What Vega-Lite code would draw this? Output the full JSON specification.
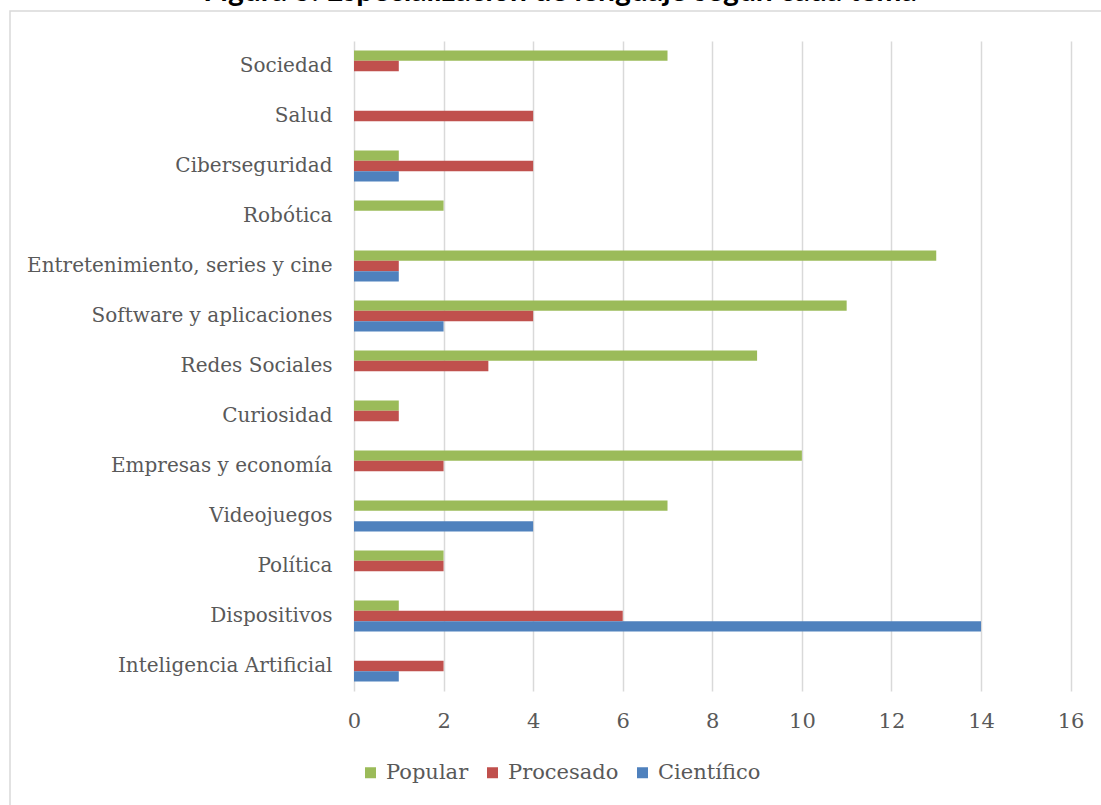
{
  "$schema": "https://vega.github.io/schema/vega-lite/v6.json",
  "autosize": {"type": "none"},
  "width": 1100,
  "height": 800,
  "padding": {"left": 10, "top": 11, "right": 0, "bottom": 0},
  "background": "#ffffff",
  "config": {
    "view": {"stroke": "#D9D9D9", "strokeWidth": 1.5},
    "font": "DejaVu Serif"
  },
  "title": {
    "text": "Figura 5. Especialización de lenguaje según cada tema",
    "font": "Lato",
    "fontSize": 30,
    "fontWeight": "bold",
    "color": "#000000",
    "anchor": "middle",
    "frame": "group",
    "baseline": "alphabetic",
    "offset": 0,
    "dy": 20
  },
  "data": {
    "values": [
      {"tema": "Sociedad", "tipo": "Popular", "valor": 7},
      {"tema": "Sociedad", "tipo": "Procesado", "valor": 1},
      {"tema": "Salud", "tipo": "Procesado", "valor": 4},
      {"tema": "Ciberseguridad", "tipo": "Popular", "valor": 1},
      {"tema": "Ciberseguridad", "tipo": "Procesado", "valor": 4},
      {"tema": "Ciberseguridad", "tipo": "Científico", "valor": 1},
      {"tema": "Robótica", "tipo": "Popular", "valor": 2},
      {"tema": "Entretenimiento, series y cine", "tipo": "Popular", "valor": 13},
      {"tema": "Entretenimiento, series y cine", "tipo": "Procesado", "valor": 1},
      {"tema": "Entretenimiento, series y cine", "tipo": "Científico", "valor": 1},
      {"tema": "Software y aplicaciones", "tipo": "Popular", "valor": 11},
      {"tema": "Software y aplicaciones", "tipo": "Procesado", "valor": 4},
      {"tema": "Software y aplicaciones", "tipo": "Científico", "valor": 2},
      {"tema": "Redes Sociales", "tipo": "Popular", "valor": 9},
      {"tema": "Redes Sociales", "tipo": "Procesado", "valor": 3},
      {"tema": "Curiosidad", "tipo": "Popular", "valor": 1},
      {"tema": "Curiosidad", "tipo": "Procesado", "valor": 1},
      {"tema": "Empresas y economía", "tipo": "Popular", "valor": 10},
      {"tema": "Empresas y economía", "tipo": "Procesado", "valor": 2},
      {"tema": "Videojuegos", "tipo": "Popular", "valor": 7},
      {"tema": "Videojuegos", "tipo": "Científico", "valor": 4},
      {"tema": "Política", "tipo": "Popular", "valor": 2},
      {"tema": "Política", "tipo": "Procesado", "valor": 2},
      {"tema": "Dispositivos", "tipo": "Popular", "valor": 1},
      {"tema": "Dispositivos", "tipo": "Procesado", "valor": 6},
      {"tema": "Dispositivos", "tipo": "Científico", "valor": 14},
      {"tema": "Inteligencia Artificial", "tipo": "Procesado", "valor": 2},
      {"tema": "Inteligencia Artificial", "tipo": "Científico", "valor": 1}
    ]
  },
  "mark": {"type": "bar"},
  "encoding": {
    "y": {
      "field": "tema",
      "type": "nominal",
      "sort": ["Sociedad", "Salud", "Ciberseguridad", "Robótica", "Entretenimiento, series y cine", "Software y aplicaciones", "Redes Sociales", "Curiosidad", "Empresas y economía", "Videojuegos", "Política", "Dispositivos", "Inteligencia Artificial"],
      "scale": {"range": [30, 680], "paddingInner": 0.38, "paddingOuter": 0.19},
      "axis": {
        "title": null,
        "offset": -344,
        "domain": false,
        "ticks": false,
        "labelPadding": 22,
        "labelFontSize": 20,
        "labelLimit": 400,
        "labelColor": "#595959"
      }
    },
    "yOffset": {
      "field": "tipo",
      "type": "nominal",
      "scale": {"domain": ["Popular", "Procesado", "Científico"], "paddingInner": 0, "paddingOuter": 0}
    },
    "x": {
      "field": "valor",
      "type": "quantitative",
      "scale": {"domain": [0, 16], "range": [344, 1060.6], "nice": false},
      "axis": {
        "title": null,
        "orient": "top",
        "values": [0, 2, 4, 6, 8, 10, 12, 14, 16],
        "grid": true,
        "gridColor": "#D9D9D9",
        "gridWidth": 1.5,
        "domain": false,
        "ticks": false,
        "labelFlush": false,
        "labelBaseline": "middle",
        "labelPadding": -710,
        "labelFontSize": 21,
        "labelColor": "#595959"
      }
    },
    "color": {
      "field": "tipo",
      "type": "nominal",
      "scale": {"domain": ["Popular", "Procesado", "Científico"], "range": ["#9BBB59", "#C0504D", "#4F81BD"]},
      "legend": {
        "title": null,
        "orient": "none",
        "direction": "horizontal",
        "legendX": 350,
        "legendY": 751,
        "symbolType": "square",
        "symbolSize": 121,
        "symbolStrokeWidth": 0,
        "labelFontSize": 21,
        "labelColor": "#595959",
        "labelOffset": 5,
        "columnPadding": 13
      }
    }
  }
}
